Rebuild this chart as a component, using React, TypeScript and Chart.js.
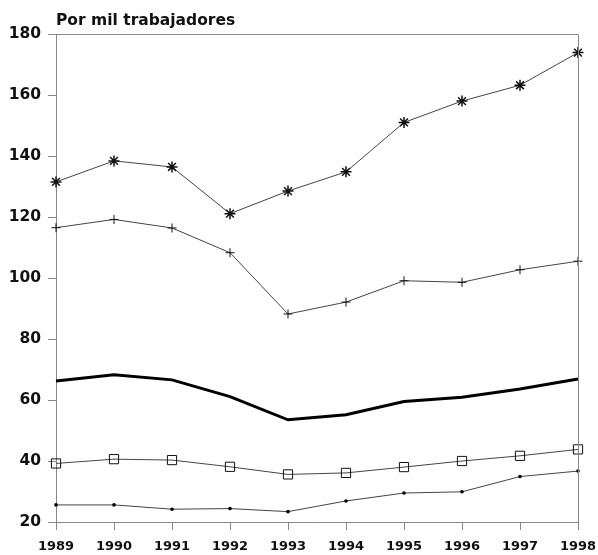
import React, { useEffect, useRef } from "react";
import { Chart, registerables } from "chart.js";

Chart.register(...registerables);

const years = ["1989", "1990", "1991", "1992", "1993", "1994", "1995", "1996", "1997", "1998"];
const seriesStar = [131.5, 138.4, 136.4, 121.1, 128.5, 134.8, 151.0, 158.0, 163.2, 173.9];
const seriesPlus = [116.5, 119.2, 116.4, 108.3, 88.2, 92.1, 99.1, 98.6, 102.7, 105.5];
const seriesThick = [66.2, 68.3, 66.6, 61.1, 53.5, 55.2, 59.5, 60.9, 63.6, 66.9];
const seriesSquare = [39.2, 40.6, 40.3, 38.1, 35.6, 36.1, 38.0, 40.0, 41.7, 43.8];
const seriesDot = [25.6, 25.6, 24.2, 24.4, 23.4, 26.9, 29.5, 29.9, 34.9, 36.7];
const yTitle = "Por mil trabajadores";

const FONT = "'DejaVu Sans', sans-serif";

const framePlugin = {
  id: "frameAndTitle",
  afterDraw(chart: any) {
    const { ctx, chartArea } = chart;
    ctx.save();
    ctx.strokeStyle = "#888";
    ctx.lineWidth = 1;
    ctx.beginPath();
    ctx.moveTo(chartArea.left, chartArea.top + 0.5);
    ctx.lineTo(chartArea.right + 0.5, chartArea.top + 0.5);
    ctx.lineTo(chartArea.right + 0.5, chartArea.bottom);
    ctx.stroke();
    ctx.fillStyle = "#111";
    ctx.font = `bold 15.5px ${FONT}`;
    ctx.textAlign = "left";
    ctx.textBaseline = "alphabetic";
    ctx.fillText(yTitle, chartArea.left, chartArea.top - 9);
    ctx.restore();
  },
};

export default function App() {
  const ref = useRef<HTMLCanvasElement>(null);
  useEffect(() => {
    if (!ref.current) return;
    const thin = "#444";
    const chart = new Chart(ref.current, {
      type: "line",
      data: {
        labels: years,
        datasets: [
          {
            data: seriesStar,
            borderColor: thin,
            borderWidth: 1,
            pointStyle: "star",
            pointRadius: 5.5,
            pointBorderColor: "#111",
            pointBorderWidth: 1.5,
            pointBackgroundColor: "#111",
            tension: 0,
          },
          {
            data: seriesPlus,
            borderColor: thin,
            borderWidth: 1,
            pointStyle: "cross",
            pointRadius: 4.5,
            pointBorderColor: "#111",
            pointBorderWidth: 1,
            tension: 0,
          },
          {
            data: seriesThick,
            borderColor: "#000",
            borderWidth: 3,
            pointRadius: 0,
            tension: 0,
          },
          {
            data: seriesSquare,
            borderColor: thin,
            borderWidth: 1,
            pointStyle: "rect",
            pointRadius: 6.5,
            pointBorderColor: "#111",
            pointBorderWidth: 1,
            pointBackgroundColor: "rgba(0,0,0,0)",
            tension: 0,
          },
          {
            data: seriesDot,
            borderColor: thin,
            borderWidth: 1,
            pointStyle: "circle",
            pointRadius: 1.8,
            pointBorderColor: "#000",
            pointBackgroundColor: "#000",
            pointBorderWidth: 0,
            tension: 0,
          },
        ],
      },
      options: {
        responsive: false,
        animation: false,
        layout: { padding: { top: 34, right: 20, left: 0, bottom: 0 } },
        plugins: { legend: { display: false }, tooltip: { enabled: false }, title: { display: false } },
        scales: {
          x: {
            type: "category",
            offset: false,
            afterFit(scale: any) {
              scale.height = 33;
              scale.paddingLeft = 0;
              scale.paddingRight = 0;
            },
            grid: { drawOnChartArea: false, drawTicks: true, tickLength: 8, color: "#888" },
            border: { display: true, color: "#888", width: 1 },
            ticks: {
              color: "#111",
              font: { family: FONT, size: 13, weight: "bold" },
              padding: 9,
              maxRotation: 0,
              autoSkip: false,
            },
          },
          y: {
            min: 20,
            max: 180,
            afterFit(scale: any) {
              scale.width = 56;
              scale.paddingTop = 0;
              scale.paddingBottom = 0;
            },
            grid: { drawOnChartArea: false, drawTicks: true, tickLength: 8, color: "#888" },
            border: { display: true, color: "#888", width: 1 },
            ticks: {
              stepSize: 20,
              color: "#111",
              font: { family: FONT, size: 15.5, weight: "bold" },
              padding: 7,
            },
          },
        },
      },
      plugins: [framePlugin],
    });
    return () => chart.destroy();
  }, []);
  return (
    <div style={{ position: "fixed", left: 0, top: 0, width: 598, height: 555, background: "#fff" }}>
      <canvas ref={ref} width={598} height={555} />
    </div>
  );
}
